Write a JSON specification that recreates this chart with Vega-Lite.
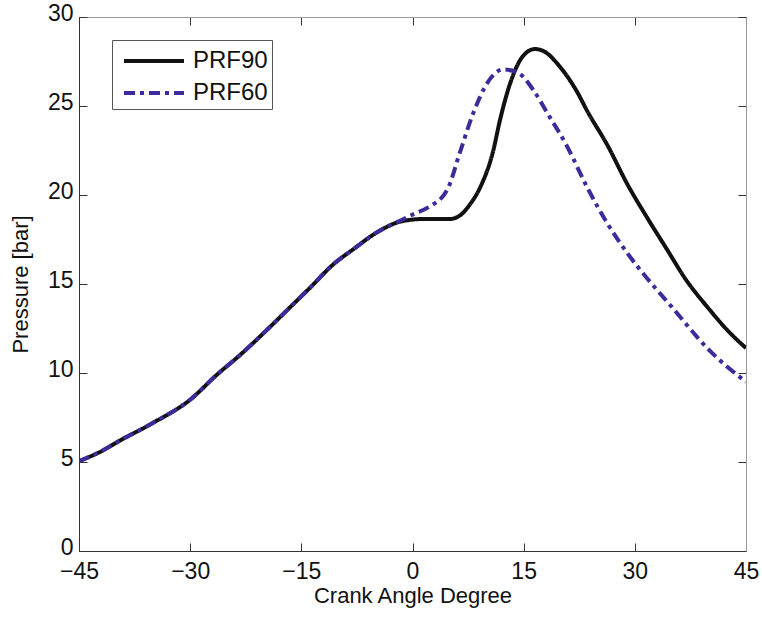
{
  "$schema": "https://vega.github.io/schema/vega-lite/v6.json",
  "width": 667,
  "height": 534,
  "autosize": {"type": "none"},
  "padding": {"left": 79, "top": 17, "right": 16, "bottom": 67},
  "background": "white",
  "config": {
    "font": "Liberation Sans",
    "view": {"stroke": "#888", "strokeWidth": 1},
    "axis": {"grid": false, "domainColor": "#333", "tickColor": "#333", "labelColor": "#111", "titleColor": "#111", "labelFontSize": 23, "titleFontSize": 22, "titleFontWeight": "normal", "tickSize": -8, "labelPadding": 14, "labelFlush": false, "labelOverlap": false}
  },
  "data": {"values": [
    {"x": -45, "y": 5.05, "series": "PRF90"},
    {"x": -42, "y": 5.6, "series": "PRF90"},
    {"x": -39.5, "y": 6.2, "series": "PRF90"},
    {"x": -35, "y": 7.2, "series": "PRF90"},
    {"x": -30, "y": 8.5, "series": "PRF90"},
    {"x": -26.4, "y": 9.9, "series": "PRF90"},
    {"x": -23.3, "y": 11.0, "series": "PRF90"},
    {"x": -19.2, "y": 12.6, "series": "PRF90"},
    {"x": -16.5, "y": 13.7, "series": "PRF90"},
    {"x": -13.8, "y": 14.8, "series": "PRF90"},
    {"x": -10.7, "y": 16.1, "series": "PRF90"},
    {"x": -8, "y": 16.95, "series": "PRF90"},
    {"x": -4.8, "y": 17.9, "series": "PRF90"},
    {"x": -1.7, "y": 18.5, "series": "PRF90"},
    {"x": 1.4, "y": 18.65, "series": "PRF90"},
    {"x": 5.0, "y": 18.65, "series": "PRF90"},
    {"x": 6.4, "y": 18.85, "series": "PRF90"},
    {"x": 7.8, "y": 19.5, "series": "PRF90"},
    {"x": 9.1, "y": 20.4, "series": "PRF90"},
    {"x": 10.9, "y": 22.5, "series": "PRF90"},
    {"x": 11.8, "y": 24.2, "series": "PRF90"},
    {"x": 13.2, "y": 26.3, "series": "PRF90"},
    {"x": 14.9, "y": 27.8, "series": "PRF90"},
    {"x": 16.5, "y": 28.2, "series": "PRF90"},
    {"x": 17.6, "y": 28.1, "series": "PRF90"},
    {"x": 19.9, "y": 27.2, "series": "PRF90"},
    {"x": 22.2, "y": 25.8, "series": "PRF90"},
    {"x": 23.6, "y": 24.7, "series": "PRF90"},
    {"x": 26.3, "y": 22.8, "series": "PRF90"},
    {"x": 29.0, "y": 20.6, "series": "PRF90"},
    {"x": 31.7, "y": 18.7, "series": "PRF90"},
    {"x": 34.4, "y": 16.9, "series": "PRF90"},
    {"x": 36.8, "y": 15.3, "series": "PRF90"},
    {"x": 40, "y": 13.6, "series": "PRF90"},
    {"x": 42.5, "y": 12.4, "series": "PRF90"},
    {"x": 45, "y": 11.4, "series": "PRF90"},
    {"x": -45, "y": 5.05, "series": "PRF60"},
    {"x": -42, "y": 5.6, "series": "PRF60"},
    {"x": -39.5, "y": 6.2, "series": "PRF60"},
    {"x": -35, "y": 7.2, "series": "PRF60"},
    {"x": -30, "y": 8.5, "series": "PRF60"},
    {"x": -26.4, "y": 9.9, "series": "PRF60"},
    {"x": -23.3, "y": 11.0, "series": "PRF60"},
    {"x": -19.2, "y": 12.6, "series": "PRF60"},
    {"x": -16.5, "y": 13.7, "series": "PRF60"},
    {"x": -13.8, "y": 14.8, "series": "PRF60"},
    {"x": -10.7, "y": 16.1, "series": "PRF60"},
    {"x": -8, "y": 16.95, "series": "PRF60"},
    {"x": -4.8, "y": 17.9, "series": "PRF60"},
    {"x": -1.7, "y": 18.55, "series": "PRF60"},
    {"x": 0, "y": 18.9, "series": "PRF60"},
    {"x": 2.1, "y": 19.3, "series": "PRF60"},
    {"x": 4.7, "y": 20.3, "series": "PRF60"},
    {"x": 6.4, "y": 22.4, "series": "PRF60"},
    {"x": 8.2, "y": 24.6, "series": "PRF60"},
    {"x": 10.1, "y": 26.3, "series": "PRF60"},
    {"x": 12.2, "y": 27.05, "series": "PRF60"},
    {"x": 14.1, "y": 26.9, "series": "PRF60"},
    {"x": 16.3, "y": 25.9, "series": "PRF60"},
    {"x": 18.2, "y": 24.6, "series": "PRF60"},
    {"x": 20.9, "y": 22.7, "series": "PRF60"},
    {"x": 23.6, "y": 20.4, "series": "PRF60"},
    {"x": 26.3, "y": 18.4, "series": "PRF60"},
    {"x": 29.4, "y": 16.5, "series": "PRF60"},
    {"x": 31.7, "y": 15.3, "series": "PRF60"},
    {"x": 35, "y": 13.7, "series": "PRF60"},
    {"x": 40, "y": 11.3, "series": "PRF60"},
    {"x": 45, "y": 9.5, "series": "PRF60"}
  ]},
  "layer": [
    {
      "mark": {"type": "line", "strokeWidth": 4, "interpolate": "monotone", "clip": true},
      "encoding": {
        "x": {"field": "x", "type": "quantitative", "scale": {"domain": [-45, 45], "nice": false}, "axis": {"values": [-45, -30, -15, 0, 15, 30, 45], "title": "Crank Angle Degree", "titlePadding": 2, "labelPadding": 17}},
        "y": {"field": "y", "type": "quantitative", "scale": {"domain": [0, 30], "nice": false}, "axis": {"values": [0, 5, 10, 15, 20, 25, 30], "title": "Pressure [bar]", "titlePadding": 15, "labelOffset": -4}},
        "color": {"field": "series", "type": "nominal", "scale": {"domain": ["PRF90", "PRF60"], "range": ["#111111", "#3b2b9b"]},
          "legend": {"title": null, "orient": "none", "legendX": 33, "legendY": 23, "direction": "vertical", "symbolType": "M-2,0H2", "symbolSize": 900, "symbolStrokeWidth": 4, "symbolOffset": 21, "labelFontSize": 24, "labelColor": "#111", "labelOffset": 22, "rowPadding": 3, "padding": 4, "strokeColor": "#555", "fillColor": "white"}},
        "strokeDash": {"field": "series", "type": "nominal", "scale": {"domain": ["PRF90", "PRF60"], "range": [[1, 0], [11, 5, 4, 5]]}, "legend": null},
        "detail": {"field": "series"}
      }
    },
    {
      "mark": {"type": "rule", "opacity": 0},
      "encoding": {
        "x": {"datum": 0, "type": "quantitative", "scale": {"domain": [-45, 45], "nice": false}, "axis": {"orient": "top", "values": [-45, -30, -15, 0, 15, 30, 45], "labels": false, "title": null, "domainColor": "#999"}},
        "y": {"datum": 0, "type": "quantitative", "scale": {"domain": [0, 30], "nice": false}, "axis": {"orient": "right", "values": [0, 5, 10, 15, 20, 25, 30], "labels": false, "title": null, "domainColor": "#999"}}
      }
    }
  ],
  "resolve": {"axis": {"x": "independent", "y": "independent"}}
}
